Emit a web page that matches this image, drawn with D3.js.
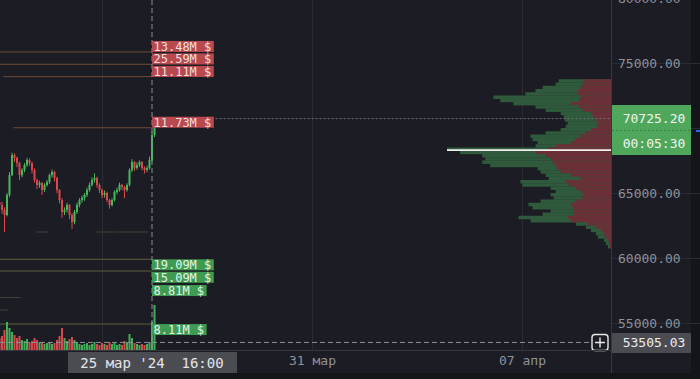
<!DOCTYPE html>
<html>
<head>
<meta charset="utf-8">
<script src="https://cdn.jsdelivr.net/npm/d3@7"></script>
<style>
  body { margin: 0; background: #1c1d24; }
  svg { display: block; }
  text { font-family: "DejaVu Sans Mono", monospace; }
</style>
</head>
<body>
<div id="holder"></div>
<script>
// 2h candles, BTC/USDT, 20 мар 14:00 -> 25 мар 18:00
const candleStart = Date.UTC(2024, 2, 20, 14, 0);
const candleStep = 2 * 3600 * 1000;
const opens = [64300,64080,63700,63300,64850,66380,67920,67690,67310,66380,
  66770,67150,67540,67310,66770,66000,65620,65770,65230,65620,
  65850,66380,66620,66150,65230,64460,63540,63690,64080,63300,
  62770,63540,64080,64460,64620,64850,65230,65620,66000,66150,
  65620,65230,64850,65000,64460,64080,64460,65080,65230,65620,
  65460,65230,65620,66770,67380,66920,67150,67380,66920,66770,
  66920,67540,69460];
const closes = [64080,63700,63300,64850,66380,67920,67690,67310,66380,66770,
  67150,67540,67310,66770,66000,65620,65770,65230,65620,65850,
  66380,66620,66150,65230,64460,63540,63690,64080,63300,62770,
  63540,64080,64460,64620,64850,65230,65620,66000,66150,65620,
  65230,64850,65000,64460,64080,64460,65080,65230,65620,65460,
  65230,65620,66770,67380,66920,67150,67380,66920,66770,66920,
  67540,69460,70725.2];
const highs = [64600,64300,63900,65000,66600,68100,68050,67800,67400,66900,
  67300,67700,67650,67400,66900,66100,65950,65850,65750,66000,
  66500,66800,66700,66250,65300,64600,63900,64250,64150,63450,
  63700,64250,64600,64800,65000,65400,65800,66200,66500,66250,
  65750,65350,65200,65100,64550,64600,65200,65400,65800,65700,
  65550,65750,66900,67600,67450,67350,67500,67450,67050,67100,
  67800,69700,70800];
const lows = [63800,63400,62000,63200,64700,66300,67400,67000,66000,66200,
  66600,67000,67100,66500,65800,65300,65400,64850,65100,65500,
  65700,66200,65900,65000,64200,63100,63300,63500,63000,62250,
  62600,63400,63900,64250,64400,64700,65100,65500,65800,65400,
  65000,64600,64650,64300,63800,63950,64350,64900,65100,65200,
  64600,65100,65500,66600,66700,66800,67000,66750,66500,66600,
  66800,67400,69300];
const volumes = [12,14,20,28,22,18,15,12,14,10,
  9,11,8,9,12,10,8,7,6,7,
  8,6,7,10,14,22,12,9,11,13,
  10,8,6,5,6,7,5,6,8,6,
  5,7,6,5,8,6,7,5,6,5,
  9,8,16,12,7,6,5,6,5,6,
  8,28,45];

// volume profile, bins of 250 $ (lower bound), top to bottom
const profileLevels = [73500,73250,73000,72750,72500,72250,72000,71750,71500,71250,
  71000,70750,70500,70250,70000,69750,69500,69250,69000,68750,
  68500,68250,68000,67750,67500,67250,67000,66750,66500,66250,
  66000,65750,65500,65250,65000,64750,64500,64250,64000,63750,
  63500,63250,63000,62750,62500,62250,62000,61750,61500,61250,
  61000,60750];
const profileTotal = [52,55,68,75,85,117,110,97,75,65,
  50,47,46,43,45,50,65,80,78,73,
  75,163,150,128,125,128,120,73,70,65,
  62,90,88,60,55,60,57,70,82,78,
  60,68,92,80,35,25,20,15,13,7,
  5,3];
const profileSell = [27,28,30,33,33,30,32,40,32,28,
  20,17,16,13,14,20,25,30,35,40,
  55,62,75,65,60,58,55,53,50,40,
  30,45,42,35,30,28,30,35,40,38,
  37,37,43,40,23,15,10,7,6,3,
  2,1];
const profileStep = 250;

// large limit orders
const levelPrices = [75850, 74900, 73950, 70020, 59900, 59000, 57920, 54920];
const levelLabels = ["13.48M $", "25.59M $", "11.11M $", "11.73M $", "19.09M $", "15.09M $", "8.81M $", "8.11M $"];
const levelSides = ["ask", "ask", "ask", "ask", "bid", "bid", "bid", "bid"];
const levelFrom = [0, 0, 2, 6, 0, 0, 62, 0];
// small orders (no label)
const smallPrices = [62000, 62000, 62000, 56960, 56000];
const smallFrom = [15, 39, 47, 0, 0];
const smallTo = [19, 46, 59, 8, 3];

const priceTicks = [55000, 60000, 65000, 70000, 75000, 80000];
const timeTicks = [Date.UTC(2024, 2, 24), Date.UTC(2024, 2, 31), Date.UTC(2024, 3, 7)];
const timeTickLabels = ["24 мар", "31 мар", "07 апр"];

const lastPrice = 70725.20;
const countdown = "00:05:30";
const crossTime = Date.UTC(2024, 2, 25, 16, 0);
const crossPrice = 53505.03;
const crossTimeLabel = "25 мар '24  16:00";

const W = 700, H = 379;
const plotW = 611, plotH = 350;

const svg = d3.select("#holder").append("svg").attr("width", W).attr("height", H);
svg.append("rect").attr("width", W).attr("height", H).attr("fill", "#1c1d24");
svg.append("rect").attr("x", 0).attr("y", 373).attr("width", W).attr("height", 6).attr("fill", "#141519");
svg.append("rect").attr("x", 691).attr("y", 0).attr("width", 9).attr("height", H).attr("fill", "#141519");

const x = d3.scaleUtc()
  .domain([Date.UTC(2024, 2, 20, 14, 24), Date.UTC(2024, 3, 9, 23, 12)])
  .range([0, plotW]);
const y = d3.scaleLinear().domain([52923.08, 79846.15]).range([plotH, 0]);
const vol = d3.scaleLinear().domain([0, d3.max(volumes)]).range([plotH, plotH - 45]);
const prof = d3.scaleLinear().domain([0, d3.max(profileTotal)]).range([0, 164]);

const t = i => candleStart + i * candleStep;
const crossX = x(crossTime);

// grid
svg.append("g")
  .call(d3.axisLeft(y).tickValues(priceTicks).tickSize(-plotW).tickFormat(""))
  .attr("transform", "translate(" + plotW + ",0)")
  .call(g => g.select(".domain").remove())
  .selectAll("line").attr("stroke", "#2a2c34");
svg.append("g")
  .call(d3.axisBottom(x).tickValues(timeTicks).tickSize(plotH).tickFormat(""))
  .call(g => g.select(".domain").remove())
  .selectAll("line").attr("stroke", "#2a2c34");

// volume profile
const profG = svg.append("g");
profileLevels.forEach((p, i) => {
  const top = y(p + profileStep), h = y(p) - y(p + profileStep);
  profG.append("rect").attr("x", plotW - prof(profileTotal[i])).attr("y", top)
    .attr("width", prof(profileTotal[i])).attr("height", h + 0.2).attr("fill", "#2f5a3c");
  profG.append("rect").attr("x", plotW - prof(profileSell[i])).attr("y", top)
    .attr("width", prof(profileSell[i])).attr("height", h + 0.2).attr("fill", "#6b3037");
});
const poc = d3.maxIndex(profileTotal);
profG.append("line")
  .attr("x1", plotW - prof(profileTotal[poc])).attr("x2", plotW)
  .attr("y1", y(profileLevels[poc] + profileStep / 2) + 1).attr("y2", y(profileLevels[poc] + profileStep / 2) + 1)
  .attr("stroke", "#f0f0f0").attr("stroke-width", 1.6);

// order lines
levelPrices.forEach((p, i) => {
  svg.append("line").attr("x1", x(t(levelFrom[i])) - 1).attr("x2", crossX)
    .attr("y1", y(p)).attr("y2", y(p))
    .attr("stroke", levelSides[i] == "ask" ? "#6e4a36" : "#5e5d3c").attr("stroke-width", 1);
});
smallPrices.forEach((p, i) => {
  svg.append("line").attr("x1", x(t(smallFrom[i])) - 1).attr("x2", x(t(smallTo[i])) + 1)
    .attr("y1", y(p)).attr("y2", y(p)).attr("stroke", "#3a4838").attr("stroke-width", 1);
});

// volume bars
svg.append("g").selectAll("rect").data(volumes).join("rect")
  .attr("x", (d, i) => x(t(i)) - 1)
  .attr("y", d => vol(d))
  .attr("width", 2)
  .attr("height", d => plotH - vol(d))
  .attr("fill", (d, i) => closes[i] >= opens[i] ? "#3fae55" : "#d9464b");

// candles
const cg = svg.append("g");
closes.forEach((c, i) => {
  const col = c >= opens[i] ? "#47b85a" : "#e0474c";
  const cx = x(t(i));
  cg.append("line").attr("x1", cx).attr("x2", cx).attr("y1", y(highs[i])).attr("y2", y(lows[i]))
    .attr("stroke", col).attr("stroke-width", 1);
  cg.append("rect").attr("x", cx - 1).attr("width", 2)
    .attr("y", y(Math.max(c, opens[i])))
    .attr("height", Math.max(1, Math.abs(y(c) - y(opens[i]))))
    .attr("fill", col);
});

// last price line
svg.append("line").attr("x1", x(t(closes.length - 1)) + 1).attr("x2", plotW)
  .attr("y1", y(lastPrice)).attr("y2", y(lastPrice))
  .attr("stroke", "#6d7079").attr("stroke-dasharray", "2,2");

// crosshair
svg.append("line").attr("x1", crossX).attr("x2", crossX).attr("y1", 0).attr("y2", plotH)
  .attr("stroke", "#8d9099").attr("stroke-dasharray", "5,3");
svg.append("line").attr("x1", 0).attr("x2", 592).attr("y1", y(crossPrice)).attr("y2", y(crossPrice))
  .attr("stroke", "#8d9099").attr("stroke-dasharray", "5,3");
const plus = svg.append("g").attr("transform", "translate(600," + y(crossPrice) + ")");
plus.append("rect").attr("x", -8).attr("y", -8).attr("width", 16).attr("height", 16).attr("rx", 3)
  .attr("fill", "#1c1d24").attr("stroke", "#e8e8e8").attr("stroke-width", 1.4);
plus.append("path").attr("d", "M-5,0H5M0,-5V5").attr("stroke", "#e8e8e8").attr("stroke-width", 1.4);

// order labels
const labG = svg.append("g");
let lastAskBottom = -1e9, lastBidBottom = -1e9;
levelPrices.forEach((p, i) => {
  const ask = levelSides[i] == "ask";
  const g = labG.append("g");
  const txt = g.append("text").text(levelLabels[i]).attr("font-size", 12)
    .attr("fill", ask ? "#f4dede" : "#e4f4e6").attr("dominant-baseline", "central");
  const w = txt.node().getComputedTextLength() + 4;
  let top = ask ? y(p) - 11 : y(p);
  if (ask && top < lastAskBottom + 1.5) top = lastAskBottom + 1.5;
  if (!ask && top < lastBidBottom + 1.5) top = lastBidBottom + 1.5;
  if (ask) lastAskBottom = top + 11; else lastBidBottom = top + 11;
  g.insert("rect", "text").attr("x", crossX).attr("y", top).attr("width", w).attr("height", 11)
    .attr("fill", ask ? "#b84a4f" : "#3f9b52");
  txt.attr("x", crossX + 1.5).attr("y", top + 5.8);
});

// axis borders
svg.append("line").attr("x1", plotW + 0.5).attr("x2", plotW + 0.5).attr("y1", 0).attr("y2", 373).attr("stroke", "#363841");
svg.append("line").attr("x1", 0).attr("x2", plotW).attr("y1", plotH + 0.5).attr("y2", plotH + 0.5).attr("stroke", "#363841");

// price axis (labels under the last-price tag are hidden)
const shownPriceTicks = priceTicks.filter(p => Math.abs(y(p) - y(lastPrice)) > 20);
svg.append("g").attr("transform", "translate(" + plotW + ",0)")
  .call(d3.axisRight(y).tickValues(shownPriceTicks).tickSize(0).tickPadding(7).tickFormat(d3.format(".2f")))
  .call(g => g.select(".domain").remove())
  .selectAll("text").attr("font-size", 13).attr("fill", "#8e9199").attr("font-family", "DejaVu Sans Mono");

// time axis (label under the crosshair tag is hidden)
const shownTimeTicks = timeTicks.filter(d => Math.abs(x(d) - crossX) > 110);
svg.append("g").attr("transform", "translate(0," + plotH + ")")
  .call(d3.axisBottom(x).tickValues(shownTimeTicks).tickSize(0).tickPadding(6)
    .tickFormat(d => timeTickLabels[timeTicks.indexOf(d)]))
  .call(g => g.select(".domain").remove())
  .selectAll("text").attr("font-size", 13).attr("fill", "#8e9199").attr("font-family", "DejaVu Sans Mono");

// last price tag
const lp = svg.append("g");
lp.append("rect").attr("x", plotW + 1).attr("y", 105).attr("width", 79).attr("height", 50).attr("fill", "#4ea75b");
lp.append("line").attr("x1", plotW + 1).attr("x2", plotW + 80).attr("y1", 130.5).attr("y2", 130.5)
  .attr("stroke", "#3b7f46").attr("stroke-dasharray", "2,2");
lp.append("text").attr("x", 654).attr("y", 118.5).attr("text-anchor", "middle").attr("dominant-baseline", "central")
  .attr("font-size", 13).attr("fill", "#f2f5f2").text(d3.format(".2f")(lastPrice));
lp.append("text").attr("x", 654).attr("y", 143).attr("text-anchor", "middle").attr("dominant-baseline", "central")
  .attr("font-size", 13).attr("fill", "#f2f5f2").text(countdown);
svg.append("rect").attr("x", 696).attr("y", 130).attr("width", 4).attr("height", 2).attr("fill", "#2962ff");

// crosshair tags
svg.append("rect").attr("x", plotW + 1).attr("y", 333).attr("width", 79).attr("height", 20).attr("fill", "#4b4c52");
svg.append("text").attr("x", 654).attr("y", y(crossPrice)).attr("text-anchor", "middle").attr("dominant-baseline", "central")
  .attr("font-size", 13).attr("fill", "#eceef2").text(d3.format(".2f")(crossPrice));
svg.append("rect").attr("x", crossX - 84).attr("y", 352).attr("width", 169).attr("height", 21).attr("fill", "#4b4c52");
svg.append("text").attr("x", crossX).attr("y", 362.5).attr("text-anchor", "middle").attr("dominant-baseline", "central")
  .attr("font-size", 14).attr("fill", "#e3e5ea").style("white-space", "pre").text(crossTimeLabel);
</script>
</body>
</html>
